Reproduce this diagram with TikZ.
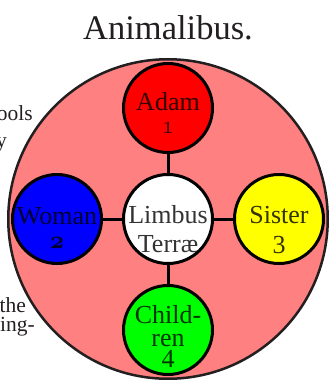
\documentclass[tikz,border=0pt]{standalone}
\usepackage{fontspec}
\setmainfont{Liberation Serif}
\newcommand{\stk}[1]{\begin{tabular}[t]{@{}c@{}}#1\end{tabular}}
\newcommand{\osf}[1]{{\usefont{OML}{cmm}{m}{it}#1}}
\newcommand{\osfb}[1]{{\usefont{OML}{cmm}{b}{it}#1}}
\definecolor{ink}{RGB}{35,31,32}
\definecolor{earthpink}{RGB}{255,128,128}
\definecolor{adamred}{RGB}{255,0,0}
\definecolor{womanblue}{RGB}{0,0,255}
\definecolor{sisteryellow}{RGB}{255,255,0}
\definecolor{childgreen}{RGB}{0,255,0}
\begin{document}
\begin{tikzpicture}[x=1pt,y=-1pt,
  disc/.style={circle,draw=black,line width=3pt,minimum size=89pt,inner sep=0pt,
    font=\fontsize{26}{29}\selectfont,text=black,text opacity=0.8,text depth=0pt},
  link/.style={line width=3pt,draw=black},
  frag/.style={anchor=base east,inner sep=0pt,font=\fontsize{21.5}{25}\selectfont,text=ink}]
\useasboundingbox (0,0) rectangle (333,380);
% margin text fragments
\node[frag] (f1) at (33,120) {ools};
\node[frag] (f2) at (7,147) {y};
\node[frag] (f3) at (26,312) {the};
\node[frag] (f4) at (35,331) {ing-};
% title
\node[anchor=base,inner sep=0pt,font=\fontsize{34.5}{40}\selectfont,text=ink] (title) at (168,39) {Animalibus.};
% outer circle
\node[circle,draw=ink,fill=earthpink,line width=2.5pt,minimum size=319.5pt,inner sep=0pt] (earth) at (168,219) {};
% discs
\node[disc,fill=white,text height=8pt] (limbus) at (168,219) {\stk{Limbus\\Terr\ae}};
\node[disc,fill=adamred,text height=4pt] (adam) at (168,108) {\stk{Adam\\[-6pt]\osf{1}}};
\node[disc,fill=womanblue,text height=10pt] (woman) at (57,219) {\stk{Woman\\[-5pt]\osfb{2}}};
\node[disc,fill=sisteryellow,text height=8pt] (sister) at (279,219) {\stk{Sister\\[1pt]3}};
\node[disc,fill=childgreen,text height=0pt,text depth=14pt] (children) at (168,330) {\stk{Child-\\[-6pt]ren\\[-8pt]4}};
% connectors
\draw[link] (limbus) -- (adam);
\draw[link] (limbus) -- (woman);
\draw[link] (limbus) -- (sister);
\draw[link] (limbus) -- (children);
\end{tikzpicture}
\end{document}
